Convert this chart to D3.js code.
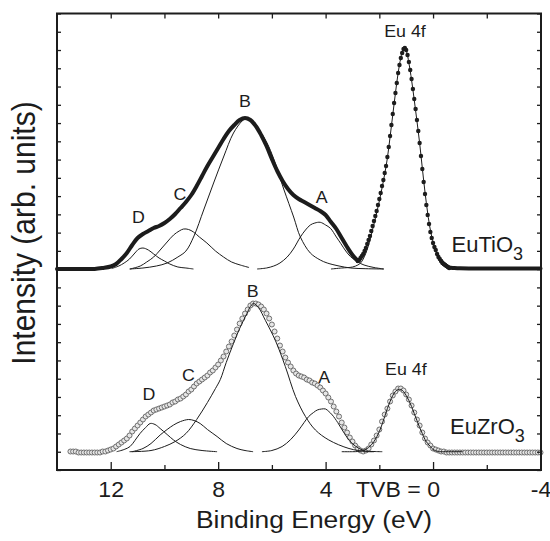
<!DOCTYPE html>
<html><head><meta charset="utf-8">
<script src="https://cdn.jsdelivr.net/npm/d3@7"></script>
<style>body{margin:0;background:#fff}svg{display:block}</style>
</head><body><svg id="c" width="550" height="541"></svg>
<script>
// ---------------- data (intensity in arbitrary units above each spectrum's baseline) ----------------
const xMajorTicks = [12, 8, 4, 0, -4];
const xMinorTicks = [10, 6, 2, -2];
const xTickLabels = {"12":"12","8":"8","4":"4","0":"TVB = 0","-4":"-4"};

const tiOffset = 201;   // EuTiO3 baseline
const zrOffset = 17.5;  // EuZrO3 baseline

// EuTiO3 valence band data (thick line)
const tiBandE = [14.0,13.5,13.0,12.6,12.3,12.0,11.8,11.6,11.4,11.2,11.0,10.8,10.6,10.4,10.2,10.0,9.8,9.6,9.4,9.2,9.0,8.8,8.6,8.4,8.2,8.0,7.8,7.6,7.4,7.2,7.0,6.8,6.6,6.4,6.2,6.0,5.8,5.6,5.4,5.2,5.0,4.8,4.6,4.4,4.2,4.0,3.8,3.6,3.4,3.2,3.0,2.8];
const tiBandV = [0,0,0,0,1,2.5,5,10,16,24,31,35,38,41,43,46,50,55,61,67,74,83,93,103,112,121,130,138,144,149,151,149,143,134,123,110,98,88,80,74,70,67,64,61,58,54,47,40,31,22,14,8];
// EuTiO3 Eu 4f data points (dots), sampled every 0.05 eV from 2.80 eV
const tiDotStart = 2.80, tiDotStep = 0.05;
const tiDotV = [8,9,11,13,15,18,21,25,29,33,
  38,43,48,53,58,64,70,76,83,89,
  96,103,112,122,133,144,155,166,176,186,
  196,204,211,216,220,221,219,214,207,199,
  190,180,170,160,149,138,126,113,100,87,
  75,64,54,45,37,31,26,22,19,15,
  12,10,8,6,5,4,3,2,1];
// EuTiO3 data tail (thick line)
const tiTailE = [-0.3,-0.4,-0.5,-0.6,-0.8,-1.0,-1.5,-2.0,-3.0,-4.0];
const tiTailV = [8,5,3,1.5,1,0.7,0.5,0.5,0.5,0.5];
// EuTiO3 fitted components
const tiEuFitE = [3.8,3.4,3.0,2.8,2.7,2.6,2.5,2.4,2.3,2.2,2.1,2.0,1.9,1.8,1.7,1.6,1.5,1.4,1.3,1.2,1.1,1.0,0.9,0.8,0.7,0.6,0.5,0.4,0.3,0.2,0.1,0.0,-0.1,-0.2,-0.3,-0.4,-0.5,-0.6,-0.8,-1.0];
const tiEuFitV = [0,1,2,4,6,10,16,24,34,45,56,68,81,95,111,132,154,176,196,211,220,218,206,189,169,148,126,101,77,56,39,27,18,12,7,4,2,1,0,0];
const tiDE = [11.96,11.7,11.5,11.3,11.1,10.95,10.8,10.6,10.4,10.2,10.0,9.8,9.5,9.2,8.92];
const tiDV = [0.5,3,6,10,16,20,21,19,15,11,8,5,2,1,0];
const tiCE = [11.28,10.9,10.66,10.4,10.16,9.9,9.66,9.45,9.29,9.1,8.92,8.7,8.42,8.1,7.8,7.5,7.18,6.85];
const tiCV = [0,3,7,12,19,27,34,38,40,39.5,37,32,26,18,12,7,4,1.5];
const tiBE = [11.3,10.8,10.3,9.9,9.5,9.2,8.9,8.54,8.17,7.8,7.43,7.11,6.99,6.85,6.68,6.45,6.18,5.93,5.56,5.19,4.94,4.57,4.2,3.94,3.5,3.07,2.5,1.84];
const tiBV = [0,1,3,6,12,18,33,59,86,112,136,148,150,149.5,146,138,126,110,80,52,32,16,9,6,3,1,0.3,0];
const tiAE = [6.55,6.2,5.93,5.7,5.43,5.2,4.94,4.75,4.57,4.4,4.2,4.0,3.82,3.6,3.44,3.25,3.07,2.8,2.57,2.2,1.83];
const tiAV = [0,1,3,6,12,20,32,39,44,46,46.7,44,40.7,32,25.7,18,12.3,7,4,1.5,0];

// EuZrO3 data (open circles), sampled every 0.1 eV from 13.5 eV
const zrStart = 13.5, zrStep = 0.1;
const zrV = [1,1,1,0,0,0,0,0,0,0,
  0,0,1,1,2,3,4,6,8,10,
  12,14,17,21,24,27,30,33,36,38,
  40,42,43,44,45,46,47,48,50,51,
  53,54,56,58,61,63,66,69,71,73,
  75,77,80,82,85,88,92,96,101,106,
  111,117,123,129,134,139,143,147,149,149,
  148,146,143,139,134,128,121,114,107,101,
  95,90,86,82,79,77,76,75,73,72,
  70,69,67,65,62,59,55,51,46,41,
  36,30,25,20,15,11,7,4,2,1,
  2,4,8,12,17,23,31,38,44,51,
  57,61,64,64,62,58,53,47,40,33,
  27,20,14,10,7,4,3,2,1,1,
  0,0,0,0,0,0,0,0,0,0,
  0,0,0,0,0,0,0,0,0,0,
  0,0,0,0,0,0,0,0,0,0,
  0,0,0,0,0,0];
// EuZrO3 fitted components
const zrDE = [11.78,11.5,11.28,11.1,10.91,10.7,10.53,10.35,10.16,9.9,9.66,9.4,9.04,8.6,8.04];
const zrDV = [0.8,3,6,12,19,25,29,28,24,18,12.5,8,4,2,0.8];
const zrCE = [11.2,10.8,10.5,10.16,9.9,9.66,9.4,9.1,8.9,8.67,8.4,8.04,7.7,7.3,7.0,6.7];
const zrCV = [0.8,4,9,17.5,23,27.5,31,33,32,29,23,16,9,4,2,0.8];
const zrBE = [11.3,10.5,10.0,9.6,9.2,8.8,8.4,8.1,7.92,7.7,7.43,7.2,6.93,6.8,6.68,6.5,6.24,5.87,5.5,5.12,4.75,4.38,3.88,3.13,2.51,2.2];
const zrBV = [0.8,2,6,11,19,33,50,64,73,90,109,124,139,146,149,145,132,112,86,56,36,22.5,12.5,4,1,0.8];
const zrAE = [6.37,6.0,5.62,5.3,5.0,4.8,4.63,4.45,4.31,4.15,4.0,3.88,3.75,3.55,3.38,3.2,3.01,2.75,2.51,2.2,1.89];
const zrAV = [0.8,2,6,13,22.5,30,36,40,42.5,43.5,43.5,41,37.5,30,22.5,15,9,4,1.5,1,0.8];
const zrEuFitE = [3.4,3.0,2.8,2.6,2.4,2.2,2.0,1.9,1.8,1.7,1.6,1.5,1.4,1.3,1.2,1.1,1.0,0.9,0.8,0.7,0.6,0.5,0.4,0.3,0.2,0.1,0.0,-0.2,-0.4,-1.1];
const zrEuFitV = [0.8,0.8,1,2,5,11,21,28,36,44,51,57,61,63,63,61,57,52,46,39,32,25,19,13,9,6,3,1,0.8,0.8];

// ---------------- drawing ----------------
const svg = d3.select("#c");
const FONT = "'Liberation Sans', Arial, Helvetica, sans-serif";
const INK = "#1c1c1c";
const L = 57, R = 541, T = 13.5, B = 470;
const x = d3.scaleLinear().domain([14, -4]).range([L, 540.5]);
const y = d3.scaleLinear().domain([0, 456.5]).range([B, T]);

const pairs = (E, V, off) => E.map((e, i) => [e, V[i] + off]);
const line = d3.line().x(d => x(d[0])).y(d => y(d[1])).curve(d3.curveCatmullRom.alpha(0.5));

// EuTiO3
const gTi = svg.append("g");
[[tiBandE, tiBandV], [tiTailE, tiTailV]].forEach(([E, V]) => {
  gTi.append("path").attr("d", line(pairs(E, V, tiOffset)))
    .attr("fill", "none").attr("stroke", INK).attr("stroke-width", 4)
    .attr("stroke-linejoin", "round").attr("stroke-linecap", "round");
});
const tiDots = tiDotV.map((v, i) => [tiDotStart - i * tiDotStep, v + tiOffset]);
gTi.selectAll("circle").data(tiDots).join("circle")
  .attr("cx", d => x(d[0])).attr("cy", d => y(d[1])).attr("r", 2.2).attr("fill", INK);
[[tiEuFitE, tiEuFitV], [tiDE, tiDV], [tiCE, tiCV], [tiBE, tiBV], [tiAE, tiAV]].forEach(([E, V]) => {
  gTi.append("path").attr("d", line(pairs(E, V, tiOffset)))
    .attr("fill", "none").attr("stroke", INK).attr("stroke-width", 1);
});

// EuZrO3
const gZr = svg.append("g");
const zrPts = zrV.map((v, i) => [zrStart - i * zrStep, v + zrOffset]);
gZr.selectAll("circle").data(zrPts).join("circle")
  .attr("cx", d => x(d[0])).attr("cy", d => y(d[1])).attr("r", 2.5)
  .attr("fill", "#e6e6e6").attr("stroke", "#6e6e6e").attr("stroke-width", 1);
[[zrEuFitE, zrEuFitV], [zrDE, zrDV], [zrCE, zrCV], [zrBE, zrBV], [zrAE, zrAV]].forEach(([E, V]) => {
  gZr.append("path").attr("d", line(pairs(E, V, zrOffset)))
    .attr("fill", "none").attr("stroke", INK).attr("stroke-width", 1);
});

// axes / ticks
const yTicks = d3.range(0, 26).map(i => i * 456.5 / 25);
const tickStyle = g => { g.select(".domain").remove(); g.selectAll("line").attr("stroke", INK).attr("stroke-width", 1.3); };
svg.append("g").attr("transform", `translate(${L},0)`).call(d3.axisLeft(y).tickValues(yTicks).tickSize(-4).tickFormat("")).call(tickStyle);
svg.append("g").attr("transform", `translate(${R},0)`).call(d3.axisRight(y).tickValues(yTicks).tickSize(-4).tickFormat("")).call(tickStyle);
svg.append("g").attr("transform", `translate(0,${T})`).call(d3.axisTop(x).tickValues(xMajorTicks.concat(xMinorTicks)).tickSize(-5).tickFormat("")).call(tickStyle);
svg.append("g").attr("transform", `translate(0,${B})`).call(d3.axisBottom(x).tickValues(xMinorTicks).tickSize(-5).tickFormat("")).call(tickStyle);
const xAx = svg.append("g").attr("transform", `translate(0,${B})`)
  .call(d3.axisBottom(x).tickValues(xMajorTicks).tickSize(-8).tickFormat(d => xTickLabels[String(d)]))
  .call(tickStyle);
xAx.selectAll("text")
  .attr("y", 0).attr("dy", null)
  .attr("font-family", FONT).attr("font-size", 22).attr("fill", INK)
  .attr("text-anchor", d => d === 0 ? "end" : "middle")
  .attr("transform", d => d === 0 ? "translate(6.5,26.7) scale(1.05,1)" : "translate(0,26.7) scale(1.05,1)");

svg.append("rect").attr("x", L).attr("y", T).attr("width", R - L).attr("height", B - T)
  .attr("fill", "none").attr("stroke", INK).attr("stroke-width", 2);

// text
function label(px, py, txt, size, s, anchor) {
  return svg.append("text").attr("transform", `translate(${px},${py}) scale(${s},1)`)
    .attr("text-anchor", anchor || "middle").attr("font-family", FONT)
    .attr("font-size", size).attr("fill", INK).text(txt);
}
label(314, 528, "Binding Energy (eV)", 24, 1.1);
svg.append("text").attr("transform", "translate(34.5,233) scale(1.1,1) rotate(-90)")
  .attr("text-anchor", "middle").attr("font-family", FONT).attr("font-size", 30).attr("fill", INK)
  .text("Intensity (arb. units)");

const peakLabels = [
  ["Eu 4f", 405, 36.7], ["B", 245, 106.7], ["C", 180, 200], ["D", 138.3, 222.7], ["A", 321.7, 203.3],
  ["Eu 4f", 405.8, 375], ["B", 252.7, 297.3], ["C", 188.3, 380.7], ["D", 149, 400], ["A", 324.3, 383.3]
];
peakLabels.forEach(([t, px, py]) => label(px, py, t, 16.5, 1.08));

function compound(px, py, main, sub) {
  const t = svg.append("text").attr("x", px).attr("y", py).attr("font-family", FONT)
    .attr("font-size", 22).attr("fill", INK);
  t.append("tspan").text(main);
  t.append("tspan").attr("dy", 8).attr("font-size", 18).text(sub);
}
compound(451.5, 251.7, "EuTiO", "3");
compound(450, 434, "EuZrO", "3");
</script></body></html>
